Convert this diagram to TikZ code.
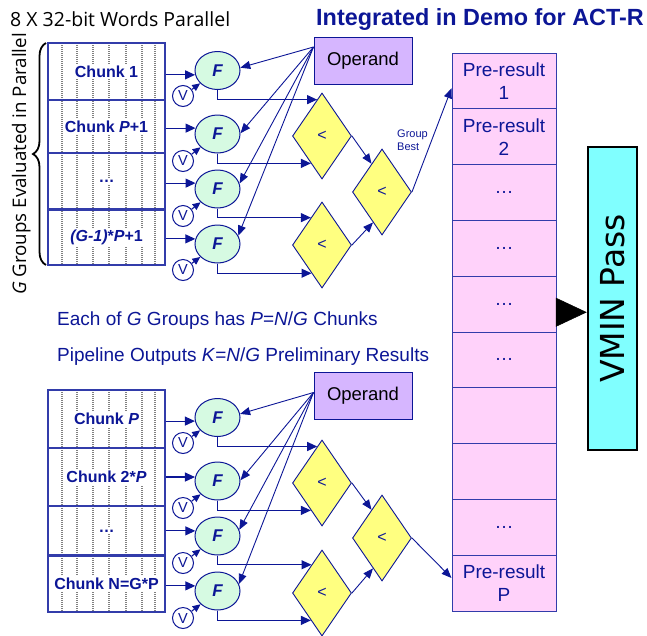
\documentclass[tikz,border=0pt]{standalone}
\usepackage{fontspec}
\setmainfont{Liberation Sans}
\newfontfamily\opensans{Open Sans}
\newfontfamily\dejavu{DejaVu Sans}
\usetikzlibrary{shapes.geometric,arrows.meta,calc,decorations.pathreplacing}

\definecolor{navy}{RGB}{12,22,150}
\definecolor{tblue}{RGB}{50,60,170}
\definecolor{fgreen}{RGB}{214,250,226}
\definecolor{dyellow}{RGB}{255,255,128}
\definecolor{oplav}{RGB}{214,182,255}
\definecolor{prpink}{RGB}{255,210,250}
\definecolor{vcyan}{RGB}{128,255,255}

\tikzset{
  conn/.style={draw=navy, line width=1.1pt, -{Triangle[length=10pt,width=9pt]}},
  vconn/.style={draw=navy, line width=1.1pt, -{Triangle[length=8pt,width=7pt]}},
  opconn/.style={draw=navy, line width=0.9pt, -{Triangle[length=10pt,width=8pt]}},
  fnode/.style={ellipse, draw=navy, line width=1pt, fill=fgreen, minimum width=45pt, minimum height=38pt, inner sep=0pt, text=navy, font=\fontsize{17}{17}\selectfont\bfseries\itshape},
  vnode/.style={circle, draw=navy, line width=1pt, fill=white, minimum size=21pt, inner sep=0pt, text=navy, font=\fontsize{14.5}{14.5}\selectfont},
  cmpnode/.style={diamond, draw=navy, line width=0.9pt, fill=dyellow, minimum width=59pt, minimum height=86pt, inner sep=0pt, text=navy, font=\fontsize{16}{16}\selectfont},
  opnode/.style={rectangle, draw=navy, line width=1pt, fill=oplav, minimum width=98pt, minimum height=47pt, inner sep=0pt, font=\fontsize{18.5}{19}\selectfont},
  prcell/.style={rectangle, draw=tblue, line width=1pt, fill=prpink, minimum width=104pt, minimum height=55.8pt, inner sep=0pt, text=navy, align=center, font=\fontsize{19}{23}\selectfont},
  rowbox/.style={rectangle, draw=tblue, line width=1.2pt, minimum width=117pt, inner sep=0pt},
  chunklbl/.style={fill=white, inner sep=2pt, text=navy, font=\fontsize{16}{16}\selectfont\bfseries},
  dotline/.style={draw=gray, line width=1.3pt, dash pattern=on 1pt off 1pt},
  vminbox/.style={rectangle, draw=black, line width=2.5pt, fill=vcyan, minimum width=49pt, minimum height=303pt, inner sep=0pt, font=\dejavu\fontsize{33}{33}\selectfont},
}

\begin{document}
\begin{tikzpicture}[x=1pt,y=-1pt]
\useasboundingbox (0,0) rectangle (647,635);

% headings
\node[anchor=base west, inner sep=0pt, font=\opensans\fontsize{19.5}{20}\selectfont] (hdr) at (10,26) {8 X 32-bit Words Parallel};
\node[anchor=base west, inner sep=0pt, text=navy, font=\bfseries\fontsize{23.4}{24}\selectfont] (title) at (316,25) {Integrated in Demo for ACT-R};
\node[rotate=90, anchor=base west, inner sep=0pt, font=\opensans\fontsize{18.7}{19}\selectfont] (grp) at (26,295) {\textit{G} Groups Evaluated in Parallel};
\draw[line width=1.8pt, decorate, decoration={brace, amplitude=13pt}] (46,265) -- (46,43);

\node[anchor=base west, inner sep=0pt, text=navy, font=\fontsize{19}{20}\selectfont] (each) at (57,325) {Each of \textit{G} Groups has \textit{P}=\textit{N}/\textit{G} Chunks};
\node[anchor=base west, inner sep=0pt, text=navy, font=\fontsize{19}{20}\selectfont] (pipe) at (57,361) {Pipeline Outputs \textit{K}=\textit{N}/\textit{G} Preliminary Results};

% tables
\foreach \x in {62,77,93,109,126,142,155} {
  \draw[dotline] (\x,43) -- (\x,265);
  \draw[dotline] (\x,390) -- (\x,612);
}
\node[rowbox, minimum height=57pt] (ta1) at (106.5,71.5) {};
\node[rowbox, minimum height=53pt] (ta2) at (106.5,126.5) {};
\node[rowbox, minimum height=57pt] (ta3) at (106.5,181.5) {};
\node[rowbox, minimum height=55pt] (ta4) at (106.5,237.5) {};
\node[rowbox, minimum height=58pt] (tb1) at (106.5,419) {};
\node[rowbox, minimum height=58pt] (tb2) at (106.5,477) {};
\node[rowbox, minimum height=50pt] (tb3) at (106.5,531) {};
\node[rowbox, minimum height=56pt] (tb4) at (106.5,584) {};
\draw[tblue, line width=2.4pt] (ta4.north west) -- (ta4.north east);
\draw[tblue, line width=2.4pt] (tb4.north west) -- (tb4.north east);

\node[chunklbl] (la1) at (ta1.center) {Chunk 1};
\node[chunklbl] (la2) at (ta2.center) {Chunk \textit{P}+1};
\node[chunklbl] (la3) at (ta3.center) {…};
\node[chunklbl] (la4) at (ta4.center) {\textit{(G-1)}*\textit{P}+1};
\node[chunklbl] (lb1) at (tb1.center) {Chunk \textit{P}};
\node[chunklbl] (lb2) at (tb2.center) {Chunk 2*\textit{P}};
\node[chunklbl] (lb3) at (tb3.center) {…};
\node[chunklbl] (lb4) at (tb4.center) {Chunk N=G*P};

% F and V nodes
\foreach \i/\y in {1/70.5,2/134,3/189,4/244} \node[fnode] (f\i) at (217.5,\y) {F};
\foreach \i/\y in {1/96,2/161,3/216,4/270} \node[vnode] (v\i) at (183,\y) {V};
\foreach \i/\y in {1/417.5,2/481,3/536,4/591} \node[fnode] (g\i) at (217.5,\y) {F};
\foreach \i/\y in {1/443,2/508,3/563,4/618} \node[vnode] (w\i) at (183,\y) {V};

% comparators
\node[cmpnode] (d1) at (322,136) {<};
\node[cmpnode] (d2) at (322,245) {<};
\node[cmpnode] (d3) at (382,192) {<};
\node[cmpnode] (e1) at (322,483) {<};
\node[cmpnode] (e2) at (322,593) {<};
\node[cmpnode] (e3) at (382,538) {<};

% operands
\node[opnode] (op1) at (363,61) {Operand};
\node[opnode] (op2) at (363,395.5) {Operand};

% pre-result column
\node[prcell] (pr1) at (504,80.9) {Pre-result\\1};
\node[prcell] (pr2) at (504,136.7) {Pre-result\\2};
\node[prcell] (pr3) at (504,192.5) {…};
\node[prcell] (pr4) at (504,248.3) {…};
\node[prcell] (pr5) at (504,304.1) {…};
\node[prcell] (pr6) at (504,359.9) {…};
\node[prcell] (pr7) at (504,415.7) {};
\node[prcell] (pr8) at (504,471.5) {};
\node[prcell] (pr9) at (504,527.3) {…};
\node[prcell] (pr10) at (504,583.1) {Pre-result\\P};

% VMIN
\node[vminbox] (vmin) at (612.5,298.5) {\rotatebox{90}{VMIN Pass}};
\coordinate (vmin-in) at ($(vmin.south west)!0.455!(vmin.north west)$);
\draw[black, line width=0.5pt, -{Triangle[length=31pt,width=29pt]}] (vmin-in -| pr5.east) -- (vmin-in);

% chunk -> F
\foreach \i/\a in {1/191,2/165,3/165,4/167} \draw[conn] (ta\i.east |- f\i.\a) -- (f\i.\a);
\foreach \i/\a in {1/189,2/170,3/167,4/167} \draw[conn] (tb\i.east |- g\i.\a) -- (g\i.\a);

% V -> F
\foreach \i in {1,2,3,4} {
  \draw[vconn] (v\i) -- (f\i);
  \draw[vconn] (w\i) -- (g\i);
}

% operand -> F
\coordinate (opc1) at ($(op1.north west)+(0,10)$);
\coordinate (opc2) at ($(op2.north west)+(0,21)$);
\foreach \i/\a in {1/7,2/2,3/14,4/22} \draw[opconn] (opc1) -- (f\i.\a);
\foreach \i/\a in {1/9,2/2,3/16,4/18} \draw[opconn] (opc2) -- (g\i.\a);

% F -> comparators
\coordinate (d1a) at ($(d1.north)!0.163!(d1.west)$);
\coordinate (d1b) at ($(d1.west)!0.63!(d1.south)$);
\coordinate (d2a) at ($(d2.north)!0.37!(d2.west)$);
\coordinate (d2b) at ($(d2.west)!0.65!(d2.south)$);
\coordinate (e1a) at ($(e1.north)!0.16!(e1.west)$);
\coordinate (e1b) at ($(e1.west)!0.63!(e1.south)$);
\coordinate (e2a) at ($(e2.north)!0.35!(e2.west)$);
\coordinate (e2b) at ($(e2.west)!0.63!(e2.south)$);
\draw[conn] (f1.south) |- (d1a);
\draw[conn] (f2.south) |- (d1b);
\draw[conn] (f3.south) |- (d2a);
\draw[conn] (f4.south) |- (d2b);
\draw[conn] (g1.south) |- (e1a);
\draw[conn] (g2.south) |- (e1b);
\draw[conn] (g3.south) |- (e2a);
\draw[conn] (g4.south) |- (e2b);

% comparator tree
\draw[opconn] (d1.east) -- ($(d3.north)!0.35!(d3.west)$);
\draw[opconn] (d2.east) -- ($(d3.south)!0.3!(d3.west)$);
\draw[opconn] (e1.east) -- ($(e3.north)!0.35!(e3.west)$);
\draw[opconn] (e2.east) -- ($(e3.south)!0.3!(e3.west)$);

% group best -> pre-results
\coordinate (pr1in) at ($(pr1.north west)!0.63!(pr1.south west)$);
\coordinate (pr10in) at ($(pr10.north west)!0.41!(pr10.south west)$);
\draw[opconn] (d3.east) -- (pr1in);
\draw[opconn] (e3.east) -- (pr10in);
\node[anchor=west, inner sep=0pt, align=left, text=navy, font=\fontsize{11}{13}\selectfont] (gb) at (397,140) {Group\\Best};

\end{tikzpicture}
\end{document}
